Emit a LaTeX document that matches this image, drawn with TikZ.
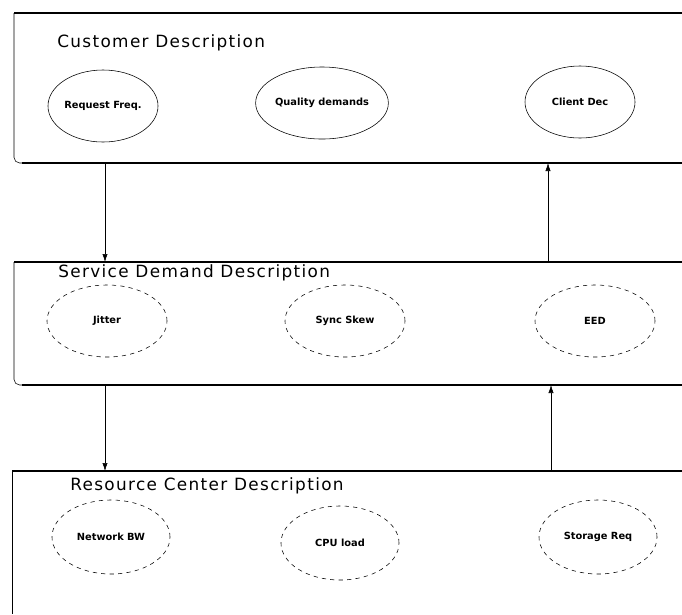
\documentclass[tikz,border=0pt]{standalone}
\usepackage{fontspec}
\usepackage{tikz}
\usetikzlibrary{shapes,positioning,arrows.meta}
\newfontfamily\dejavu{DejaVu Sans}
\newfontfamily\dejavuwide[LetterSpace=8]{DejaVu Sans}

\tikzset{
  ell/.style={draw, ellipse, inner sep=0pt, thin, font=\dejavu\bfseries\fontsize{7}{8}\selectfont},
  edge/.style={line width=1.1pt},
  side/.style={thin},
  title/.style={anchor=west, inner sep=0pt, font=\dejavuwide\fontsize{12}{14}\selectfont},
  link/.style={thin},
}

\begin{document}
\begin{tikzpicture}[x=0.025cm, y=-0.025cm]
  \useasboundingbox (0,0) rectangle (682,614);
  % customer panel
  \draw[edge] (14,13) -- (682,13);
  \draw[side, rounded corners=4pt] (14,13) -- (14,163) -- (40,163);
  \draw[edge] (22,163) -- (682,163);
  \node[title] (custT) at (57,43) {Customer Description};
  \foreach \x/\y/\id/\name in {103/106/rf/Request Freq., 322/103/qd/Quality demands, 580/102/cd/Client Dec}
    \node[ell, minimum width=2.75cm, minimum height=1.8cm] (\id) at (\x,\y) {\name};
  % service demand panel
  \draw[edge] (14,262) -- (682,262);
  \draw[side, rounded corners=4pt] (14,262) -- (14,385) -- (40,385);
  \draw[edge] (22,385) -- (682,385);
  \node[title] (servT) at (58,273) {Service Demand Description};
  \foreach \x/\y/\id/\name in {107/321/ji/Jitter, 345/321/sk/Sync Skew, 595/321/ed/EED}
    \node[ell, dashed, minimum width=3cm, minimum height=1.8cm] (\id) at (\x,\y) {\name};
  % resource center panel
  \draw[edge] (12,471) -- (682,471);
  \draw[side] (12,471) -- (12,614);
  \node[title] (resT) at (70,486) {Resource Center Description};
  \foreach \x/\y/\id/\name in {111/537/bw/Network BW, 340/543/cpu/CPU load, 598/537/st/Storage Req}
    \node[ell, dashed, minimum width=2.95cm, minimum height=1.85cm] (\id) at (\x,\y) {\name};
  % link points
  \coordinate (c1) at (105,163); \coordinate (s1) at (105,262);
  \coordinate (c2) at (548,163); \coordinate (s2) at (548,262);
  \coordinate (s3) at (105,385); \coordinate (r1) at (105,471);
  \coordinate (s4) at (551,385); \coordinate (r2) at (551,471);
  \draw[link, -{Latex[length=2mm, width=1.3mm]}] (c1) -- (s1);
  \draw[link, {Latex[length=2mm, width=1.3mm]}-] (c2) -- (s2);
  \draw[link, -{Latex[length=2mm, width=1.3mm]}] (s3) -- (r1);
  \draw[link, {Latex[length=2mm, width=1.3mm]}-] (s4) -- (r2);
\end{tikzpicture}
\end{document}
